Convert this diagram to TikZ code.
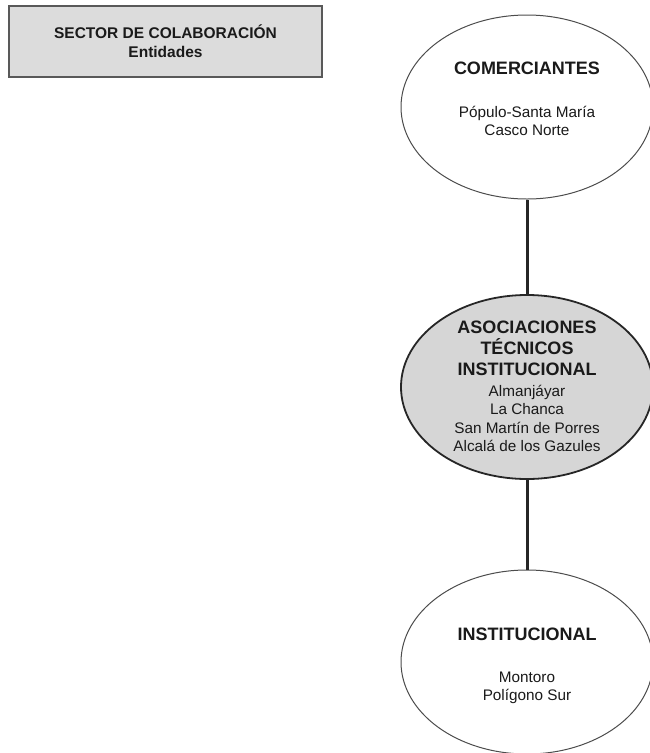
\documentclass[tikz,border=0pt]{standalone}
\usepackage{fontspec}
\setmainfont{Liberation Sans}
\usetikzlibrary{shapes.geometric}
\definecolor{boxgray}{HTML}{DCDCDC}
\definecolor{ovalgray}{HTML}{D6D6D6}
\definecolor{ink}{HTML}{1A1A1A}
\begin{document}
\begin{tikzpicture}[x=1pt,y=-1pt,
  oval/.style={ellipse, draw=black!70, line width=1pt, fill=white,
    minimum width=252pt, minimum height=184pt, inner sep=0pt},
  keyoval/.style={oval, fill=ovalgray, draw=black!85, line width=1.8pt},
  bigline/.style={font=\fontsize{18}{21}\selectfont\bfseries, text=ink, anchor=base, inner sep=0pt},
  smallline/.style={font=\fontsize{15.3}{18}\selectfont, text=ink, anchor=base, inner sep=0pt},
  titleline/.style={font=\fontsize{15.5}{18}\selectfont\bfseries, text=ink, anchor=base, inner sep=0pt},
  link/.style={line width=3pt, draw=black!85}]
\useasboundingbox (0,0) rectangle (649,753);

% header box
\node[draw=black!65, line width=1.3pt, fill=boxgray,
  minimum width=313pt, minimum height=71pt, inner sep=0pt] (hdr) at (165.5,41.5) {};
\node[titleline] (hdrA) at (165.5,38) {SECTOR DE COLABORACIÓN};
\node[titleline] (hdrB) at (165.5,57) {Entidades};

% ovals
\node[oval] (com) at (527,107) {};
\node[keyoval] (aso) at (527,387) {};
\node[oval] (ins) at (527,662) {};

% connectors
\draw[link] (com.south) -- (aso.north);
\draw[link] (aso.south) -- (ins.north);

% top oval text
\node[bigline] (comT) at (527,74.5) {COMERCIANTES};
\node[smallline] (comA) at (527,117) {Pópulo-Santa María};
\node[smallline] (comB) at (527,135) {Casco Norte};

% middle oval text
\node[bigline] (asoT1) at (527,333) {ASOCIACIONES};
\node[bigline] (asoT2) at (527,354) {TÉCNICOS};
\node[bigline] (asoT3) at (527,375) {INSTITUCIONAL};
\node[smallline] (asoA) at (527,396) {Almanjáyar};
\node[smallline] (asoB) at (527,414.5) {La Chanca};
\node[smallline] (asoC) at (527,433) {San Martín de Porres};
\node[smallline] (asoD) at (527,451.5) {Alcalá de los Gazules};

% bottom oval text
\node[bigline] (insT) at (527,640) {INSTITUCIONAL};
\node[smallline] (insA) at (527,682) {Montoro};
\node[smallline] (insB) at (527,700) {Polígono Sur};
\end{tikzpicture}
\end{document}
